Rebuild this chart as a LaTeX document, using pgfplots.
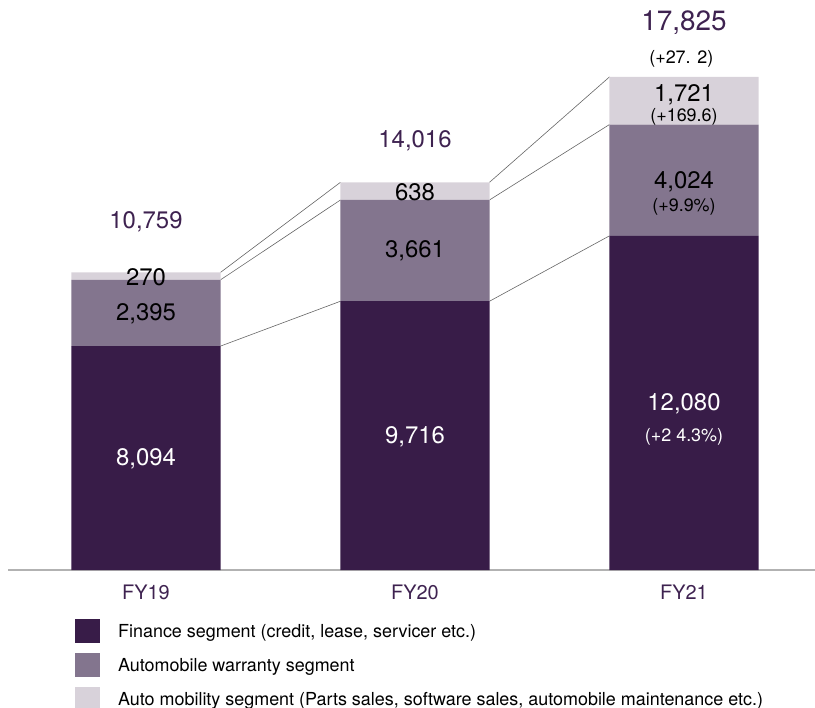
\documentclass[border=0pt]{standalone}
\usepackage{pgfplots}
\pgfplotsset{compat=1.18}
\usepackage{fontspec}
\setmainfont{TeX Gyre Heros}

\definecolor{segdark}{RGB}{56,28,72}
\definecolor{segmid}{RGB}{131,117,142}
\definecolor{seglight}{RGB}{216,210,218}
\definecolor{totcol}{RGB}{62,34,80}

\tikzset{
  big/.style={font=\fontsize{24}{26}\selectfont},
  small/.style={font=\fontsize{18}{20}\selectfont},
}

\begin{document}
\begin{tikzpicture}
  \pgfplotsset{
    base/.style={
      width=807bp, height=570bp, scale only axis,
      xmin=-0.513, xmax=2.487,
      ymin=0, ymax=20606,
    },
  }
  % connector lines between bars
  \begin{axis}[base, hide axis]
    \addplot[line width=0.6bp, black!60] coordinates {(0.277,8094) (0.723,9716)};
    \addplot[line width=0.6bp, black!60] coordinates {(1.277,9716) (1.723,12080)};
    \addplot[line width=0.6bp, black!60] coordinates {(0.277,10489) (0.723,13377)};
    \addplot[line width=0.6bp, black!60] coordinates {(1.277,13377) (1.723,16104)};
    \addplot[line width=0.6bp, black!60] coordinates {(0.277,10759) (0.723,14015)};
    \addplot[line width=0.6bp, black!60] coordinates {(1.277,14015) (1.723,17825)};
    \coordinate (bl) at (rel axis cs:0,0);
    \coordinate (tr) at (rel axis cs:1,1);
  \end{axis}
  \begin{axis}[base,
      ybar stacked, bar width=0.554,
      axis y line=none, axis x line*=bottom,
      x axis line style={draw=black!30, line width=1.5bp},
      xtick={0,1,2}, xticklabels={FY19,FY20,FY21},
      major tick length=0pt,
      xticklabel style={anchor=center, yshift=-22bp, text=totcol, font=\fontsize{20}{22}\selectfont},
      legend cell align=left,
      legend style={draw=none, fill=none, inner sep=0pt,
        at={(0.083,-0.086)}, anchor=north west,
        font=\fontsize{18}{20}\selectfont, row sep=10bp,
        /tikz/every odd column/.append style={column sep=16bp}},
      legend image code/.code={\fill[#1] (0bp,-12bp) rectangle (25bp,12bp);},
    ]
    \addplot[fill=segdark, draw=none] coordinates {(0,8094) (1,9716) (2,12080)};
    \addlegendentry{Finance segment (credit, lease, servicer etc.)}
    \addplot[fill=segmid, draw=none] coordinates {(0,2395) (1,3661) (2,4024)};
    \addlegendentry{Automobile warranty segment}
    \addplot[fill=seglight, draw=none] coordinates {(0,270) (1,638) (2,1721)};
    \addlegendentry{Auto mobility segment (Parts sales, software sales, automobile maintenance etc.)}
  \end{axis}
  % value labels
  \begin{axis}[base, hide axis]
    \node[big, white] at (axis cs:0,4013) {8,094};
    \node[big, white] at (axis cs:1,4808) {9,716};
    \node[big, white] at (axis cs:2,6001) {12,080};
    \node[small, white] at (axis cs:2,4808) {(+2 4.3\%)};
    \node[big] at (axis cs:0,9254) {2,395};
    \node[big] at (axis cs:0,10592) {270};
    \node[big] at (axis cs:1,11532) {3,661};
    \node[big] at (axis cs:1,13665) {638};
    \node[big] at (axis cs:2,14026) {4,024};
    \node[small] at (axis cs:2,13122) {(+9.9\%)};
    \node[big] at (axis cs:2,17171) {1,721};
    \node[small] at (axis cs:2,16376) {(+169.6)};
    \node[big, text=totcol] at (axis cs:0,12580) {10,759};
    \node[big, text=totcol] at (axis cs:1,15508) {14,016};
    \node[small] at (axis cs:1.99,18473) {(+27. 2)};
    \node[text=totcol, font=\fontsize{28}{30}\selectfont] at (axis cs:2,19774) {17,825};
  \end{axis}
  \pgfresetboundingbox
  \path ([xshift=-8bp, yshift=-138bp]bl) rectangle (tr);
\end{tikzpicture}
\end{document}
